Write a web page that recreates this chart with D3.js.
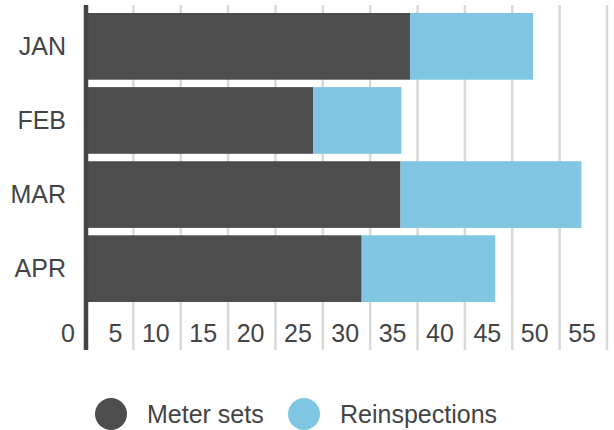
<!DOCTYPE html>
<html>
<head>
<meta charset="utf-8">
<script src="https://cdn.jsdelivr.net/npm/d3@7"></script>
<style>
  body { margin: 0; background: #fff; }
  svg { display: block; font-family: "Liberation Sans", Arial, sans-serif; }
</style>
</head>
<body>
<div id="chart"></div>
<script>
const months = ["JAN", "FEB", "MAR", "APR"];
const meterSets = [34.2, 24, 33.2, 29.1];
const reinspections = [13, 9.3, 19.1, 14.1];
const xTicks = [0, 5, 10, 15, 20, 25, 30, 35, 40, 45, 50, 55];
const seriesNames = ["Meter sets", "Reinspections"];
const colors = ["#4d4d4d", "#7ec6e2"];

const width = 614, height = 430;

const svg = d3.select("#chart")
    .append("svg")
    .attr("width", width)
    .attr("height", height);

const x = d3.scaleLinear().domain([0, 55]).range([86, 607]);
const y = d3.scaleBand().domain(months).range([13, 302]).paddingInner(0.1).paddingOuter(0);

// gridlines
svg.append("g")
    .selectAll("line")
    .data(xTicks.slice(1))
    .enter()
    .append("line")
    .attr("x1", d => x(d))
    .attr("x2", d => x(d))
    .attr("y1", 5)
    .attr("y2", 350)
    .attr("stroke", "#d9d9d9")
    .attr("stroke-width", 2.5);

// stacked bars
const rows = months.map((m, i) => ({ month: m, values: [meterSets[i], reinspections[i]] }));
rows.forEach(r => {
    let acc = 0;
    r.values.forEach((v, k) => {
        svg.append("rect")
            .attr("x", x(acc))
            .attr("y", y(r.month))
            .attr("width", x(acc + v) - x(acc))
            .attr("height", y.bandwidth())
            .attr("fill", colors[k]);
        acc += v;
    });
});

// axis line
svg.append("line")
    .attr("x1", x(0))
    .attr("x2", x(0))
    .attr("y1", 5)
    .attr("y2", 350)
    .attr("stroke", "#444")
    .attr("stroke-width", 4.5);

// x tick labels
svg.append("g")
    .selectAll("text")
    .data(xTicks)
    .enter()
    .append("text")
    .attr("x", d => x(d) - 11)
    .attr("y", 342)
    .attr("text-anchor", "end")
    .attr("fill", "#444")
    .style("font-size", "25px")
    .text(d => d);

// month labels
svg.append("g")
    .selectAll("text")
    .data(months)
    .enter()
    .append("text")
    .attr("x", 66)
    .attr("y", d => y(d) + y.bandwidth() / 2)
    .attr("dy", "0.35em")
    .attr("text-anchor", "end")
    .attr("fill", "#444")
    .style("font-size", "25px")
    .text(d => d);

// legend
const legendX = [111, 304];
seriesNames.forEach((name, i) => {
    svg.append("circle")
        .attr("cx", legendX[i])
        .attr("cy", 414)
        .attr("r", 16)
        .attr("fill", colors[i]);
    svg.append("text")
        .attr("x", legendX[i] + 36)
        .attr("y", 423)
        .attr("fill", "#444")
        .style("font-size", "25px")
        .text(name);
});
</script>
</body>
</html>
